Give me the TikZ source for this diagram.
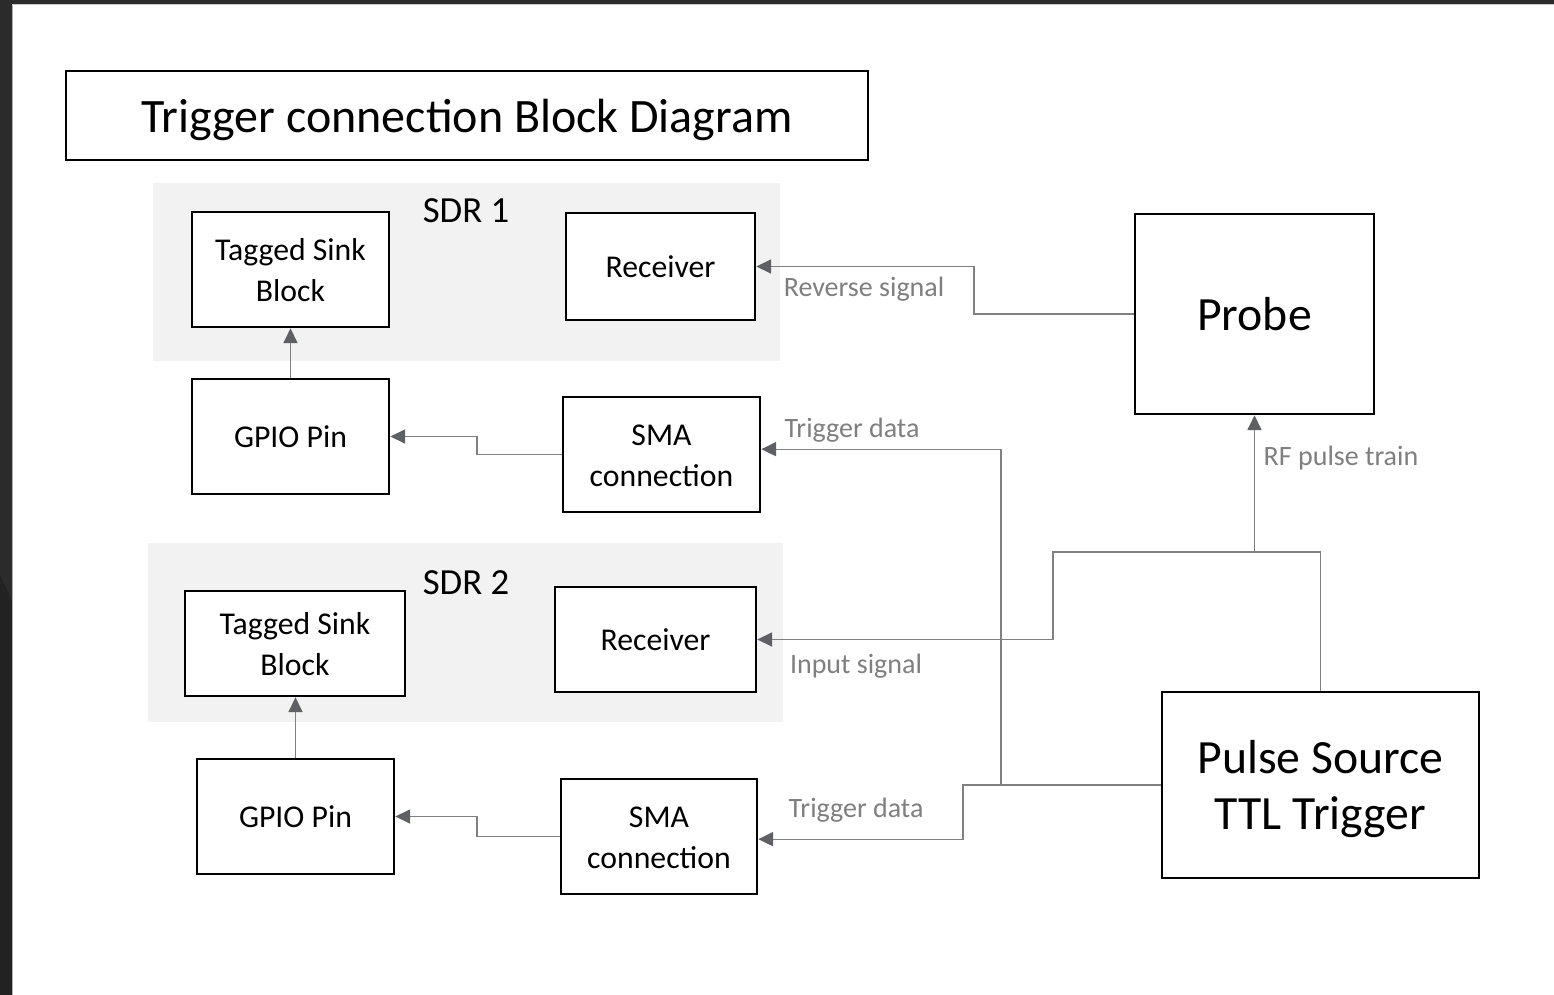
\documentclass[tikz,border=0pt]{standalone}
\usepackage{fontspec}
\setmainfont{Carlito}
\usetikzlibrary{arrows.meta,fit}
\definecolor{conngray}{HTML}{808080}
\definecolor{tipgray}{HTML}{5F6064}
\definecolor{labgray}{HTML}{7F7F7F}
\definecolor{sdrbg}{HTML}{F2F2F2}
\definecolor{darkframe}{HTML}{222222}
\definecolor{darkframetop}{HTML}{2B2B2B}
\tikzset{
  box/.style={draw=black, line width=2pt, fill=white, inner sep=0pt},
  boxtext/.style={align=center, inner sep=0pt, font=\fontsize{23.8}{30.75}\selectfont},
  bigtext/.style={align=center, inner sep=0pt, font=\fontsize{35.8}{42}\selectfont},
  sdrbox/.style={fill=sdrbg, draw=none, inner sep=0pt},
  conn/.style={draw=conngray, line width=1pt, -{Triangle[length=11pt,width=10.5pt,fill=tipgray,color=tipgray]}},
  plain/.style={draw=conngray, line width=1pt},
  lab/.style={text=labgray, font=\fontsize{21}{24}\selectfont, inner sep=0pt},
  sdrlab/.style={font=\fontsize{27.6}{32}\selectfont, inner sep=0pt}
}
\begin{document}
\begin{tikzpicture}[x=0.75pt,y=-0.75pt]
\useasboundingbox (0,0) rectangle (1554,995);
\fill[white] (0,0) rectangle (1554,995);
\fill[darkframe] (0,0) rectangle (12,995);
\fill[darkframetop] (0,0) rectangle (1554,4);
\fill[darkframetop] (0,0) -- (12,0) -- (12,600) -- (0,575) -- cycle;
\draw[gray!60, line width=0.5pt] (12.3,4.3) -- (12.3,995);
\draw[gray!40, line width=0.5pt] (12.3,4.3) -- (1554,4.3);

% title
\node[box, fit={(66,71) (868,160)}] (title) {};
\node[inner sep=0pt] (titletext) at (467,119.5) {\fontsize{36}{42}\selectfont Trigger connection Block Diagram};

% SDR backgrounds
\node[sdrbox, fit={(153,183) (780,361)}] (sdr1) {};
\node[sdrbox, fit={(148,543) (783,722)}] (sdr2) {};
\node[sdrlab] (sdr1lab) at (466,211) {SDR 1};
\node[sdrlab] (sdr2lab) at (466,583) {SDR 2};

% boxes
\node[box, fit={(192,212) (389,327)}] (tag1) {};
\node[boxtext] (tag1t) at ([yshift=-0.8pt]tag1.center) {Tagged Sink\\Block};
\node[box, fit={(566,213) (755,320)}] (rec1) {};
\node[boxtext] (rec1t) at (rec1.center) {Receiver};
\node[box, fit={(192,379) (389,494)}] (gpio1) {};
\node[boxtext] (gpio1t) at (gpio1.center) {GPIO Pin};
\node[box, fit={(563,397) (760,512)}] (sma1) {};
\node[boxtext] (sma1t) at ([yshift=-1pt]sma1.center) {SMA\\connection};

\node[box, fit={(185,591) (405,696)}] (tag2) {};
\node[boxtext] (tag2t) at ([yshift=-0.8pt]tag2.center) {Tagged Sink\\Block};
\node[box, fit={(555,587) (756,692)}] (rec2) {};
\node[boxtext] (rec2t) at (rec2.center) {Receiver};
\node[box, fit={(197,759) (394,874)}] (gpio2) {};
\node[boxtext] (gpio2t) at (gpio2.center) {GPIO Pin};
\node[box, fit={(561,779) (757,894)}] (sma2) {};
\node[boxtext] (sma2t) at ([yshift=-1pt]sma2.center) {SMA\\connection};

\node[box, fit={(1135,214) (1374,414)}] (probe) {};
\node[bigtext] (probet) at (probe.center) {Probe};
\node[box, fit={(1162,692) (1479,878)}] (pulse) {};
\node[bigtext, font=\fontsize{35.8}{42.5}\selectfont] (pulset) at ([yshift=-3pt]pulse.center) {Pulse Source\\TTL Trigger};

% connectors
\coordinate (jn) at (1254.5,552);
\draw[conn] (probe.west) -- (974,314) |- (rec1.east);
\draw[plain] (pulse.north) |- (jn);
\draw[conn] (jn) -- (probe.south);
\draw[conn] (jn) -- (1053,552) |- (rec2.east);
\draw[conn] (pulse.west) -- (1001,785) |- ([yshift=4pt]sma1.east);
\draw[conn] (pulse.west) -- (963,785) |- ([yshift=-2pt]sma2.east);
\draw[conn] (sma1.west) -- (477,454.5) |- (gpio1.east);
\draw[conn] (sma2.west) -- (477,836.5) |- (gpio2.east);
\draw[conn] (gpio1.north) -- (tag1.south);
\draw[conn] (gpio2.north) -- (gpio2.north |- tag2.south);

% labels
\node[lab] (l1) at (864,289) {Reverse signal};
\node[lab] (l2) at (852,430) {Trigger data};
\node[lab] (l3) at (856,666) {Input signal};
\node[lab] (l4) at (856,810) {Trigger data};
\node[lab] (l5) at (1341,458) {RF pulse train};
\end{tikzpicture}
\end{document}
